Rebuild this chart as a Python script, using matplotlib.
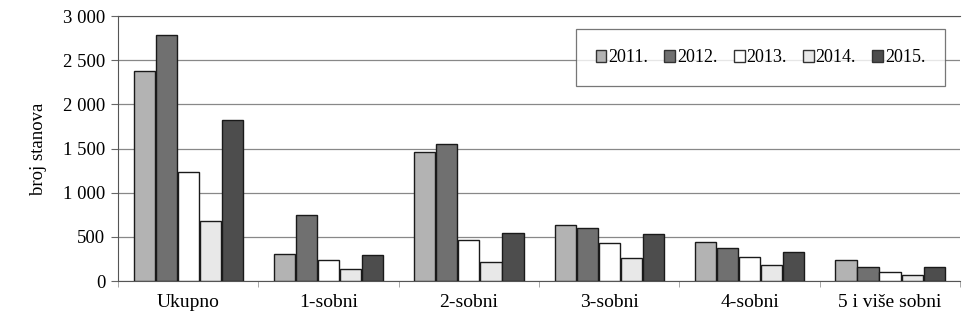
import numpy as np
import matplotlib.pyplot as plt
from matplotlib.patches import Patch

plt.rcParams['font.family'] = ['Liberation Serif', 'DejaVu Serif']

kategorije = ["Ukupno", "1-sobni", "2-sobni", "3-sobni", "4-sobni", "5 i više sobni"]
godine = ["2011.", "2012.", "2013.", "2014.", "2015."]
v2011 = [2380, 310, 1460, 634, 441, 238]
v2012 = [2790, 747, 1550, 600, 374, 158]
v2013 = [1230, 238, 464, 430, 272, 102]
v2014 = [680, 136, 215, 260, 181, 68]
v2015 = [1820, 294, 543, 532, 328, 158]
serije = [v2011, v2012, v2013, v2014, v2015]
boje = ["#b3b3b3", "#707070", "#ffffff", "#e8e8e8", "#4d4d4d"]

fig = plt.figure(figsize=(9.67, 3.23), dpi=100)
ax = fig.add_axes([0.122, 0.130, 0.871, 0.820])

x = np.arange(len(kategorije))
w = 0.157
for i, (vals, c) in enumerate(zip(serije, boje)):
    ax.bar(x + (i - 2) * w, vals, w * 0.96, color=c, edgecolor="#1a1a1a", linewidth=1.0, zorder=3)

ax.set_xlim(-0.5, len(kategorije) - 0.5)
ax.set_ylim(0, 3000)
ax.set_yticks(range(0, 3001, 500))
ax.set_yticklabels([f"{v:,}".replace(",", " ") for v in range(0, 3001, 500)], fontsize=13.5)
ax.set_xticks(x)
ax.set_xticklabels(kategorije, fontsize=14)
ax.set_xticks(np.arange(-0.5, len(kategorije)), minor=True)
ax.tick_params(axis='x', which='major', length=0, pad=9)
ax.tick_params(axis='x', which='minor', length=4, color="#999999")
ax.tick_params(axis='y', length=5, color="#666666", pad=4)
ax.grid(axis='y', color="#888888", linewidth=0.9, zorder=0)
ax.spines["right"].set_visible(False)
ax.spines["top"].set_color("#555555")
ax.spines["left"].set_color("#555555")
ax.spines["bottom"].set_color("#555555")
ax.set_ylabel("broj stanova", fontsize=13.5, labelpad=12)

handles = [Patch(facecolor=c, edgecolor="#333333", label=g) for g, c in zip(godine, boje)]
leg = ax.legend(handles=handles, ncol=5, loc="upper right", bbox_to_anchor=(0.982, 0.95),
                fontsize=13, frameon=True, fancybox=False, edgecolor="#555555",
                handlelength=0.6, handleheight=0.6, handletextpad=0.1, columnspacing=0.9,
                borderpad=1.1, borderaxespad=0)
leg.get_frame().set_linewidth(0.9)

fig.savefig("out.png", dpi=100)
